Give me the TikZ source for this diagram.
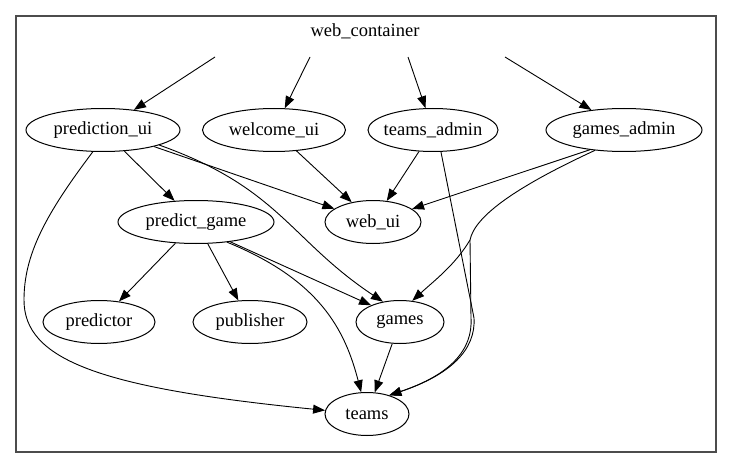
\documentclass[tikz,border=0pt]{standalone}
\usepackage{fontspec}
\setmainfont{Liberation Serif}
\usetikzlibrary{shapes.geometric,arrows.meta}

\tikzset{
  comp/.style={draw, ellipse, line width=1pt, minimum height=43pt, inner xsep=-12pt, inner ysep=2pt,
    font=\fontsize{18.5}{20}\selectfont},
  dep/.style={-{Triangle[length=12pt,width=9pt]}, line width=0.9pt}
}

\begin{document}
\begin{tikzpicture}[x=1pt,y=-1pt]

			\useasboundingbox (0,0) rectangle (731,468);

			% cluster
			\draw [gray!60!black, line width=1.4pt] (16,16) rectangle (716,452);
			\node[font=\fontsize{18.5}{20}\selectfont] (title) at (365,31) {web\_container};

			\coordinate (c1) at (215,57);
			\coordinate (c2) at (310,57);
			\coordinate (c3) at (408,57);
			\coordinate (c4) at (505,57);

			% components
			\node[comp, minimum width=154pt] (predui) at (103,130) {prediction\_ui};
			\node[comp, minimum width=143pt] (welcome) at (274,130) {welcome\_ui};
			\node[comp, minimum width=130pt] (teamsadm) at (433,130) {teams\_admin};
			\node[comp, minimum width=156pt] (gamesadm) at (624,130) {games\_admin};

			\node[comp, minimum width=96pt] (webui) at (373,222) {web\_ui};
			\node[comp, minimum width=156pt] (predgame) at (196,222) {predict\_game};

			\node[comp, minimum width=112pt] (predictor) at (99,322) {predictor};
			\node[comp, minimum width=114pt] (publisher) at (250,322) {publisher};
			\node[comp, minimum width=88pt] (games) at (400,322) {games};

			\node[comp, minimum width=84pt] (teams) at (367,414) {teams};

			% from the container
			\draw [dep] (c1) -- (predui);
			\draw [dep] (c2) -- (welcome);
			\draw [dep] (c3) -- (teamsadm);
			\draw [dep] (c4) -- (gamesadm);

			% prediction_ui
			\draw [dep] (predui) -- (predgame);
			\draw [dep] (predui.-18) -- (webui);
			\draw [dep] (predui.-15) .. controls (280,188) and (290,240) .. (games.130);
			\draw [dep] (predui.-115) .. controls (45,215) and (24,255) .. (24,300)
				.. controls (24,360) and (100,388) .. (teams.175);

			% second row
			\draw [dep] (welcome) -- (webui);
			\draw [dep] (teamsadm) -- (webui);
			\draw [dep] (gamesadm.-150) -- (webui);
			\draw [dep] (teamsadm.-70) -- (474,318) .. controls (476,350) and (450,375) .. (teams.40);
			\draw [dep] (gamesadm.-145) .. controls (520,185) and (475,215) .. (470,240)
				-- (471,318) .. controls (473,350) and (450,375) .. (teams.40);
			\draw [dep] (470,240) .. controls (455,265) and (435,280) .. (games.60);

			% predict_game
			\draw [dep] (predgame) -- (predictor);
			\draw [dep] (predgame) -- (publisher);
			\draw [dep] (predgame.-30) -- (games.150);
			\draw [dep] (predgame.-33) .. controls (320,280) and (345,330) .. (teams.105);

			\draw [dep] (games) -- (teams);

\end{tikzpicture}
\end{document}
